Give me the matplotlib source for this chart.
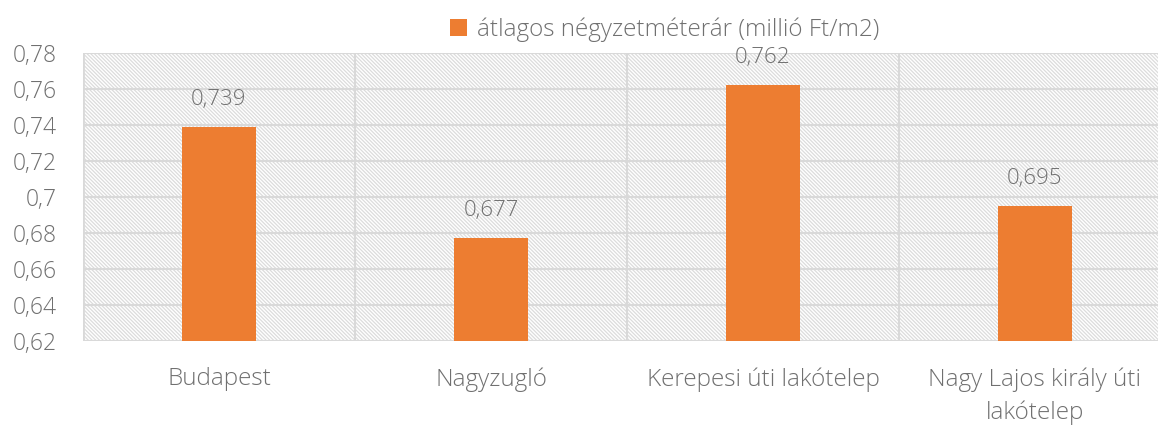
import matplotlib.pyplot as plt
from matplotlib.patches import Patch

# -----------------------
# Data
# -----------------------
categories = ["Budapest", "Nagyzugló", "Kerepesi úti lakótelep", "Nagy Lajos király úti\nlakótelep"]
values = [0.739, 0.677, 0.762, 0.695]
value_labels = ["0,739", "0,677", "0,762", "0,695"]
y_ticks = [0.62, 0.64, 0.66, 0.68, 0.70, 0.72, 0.74, 0.76, 0.78]
y_tick_labels = ["0,62", "0,64", "0,66", "0,68", "0,7", "0,72", "0,74", "0,76", "0,78"]
series_name = "átlagos négyzetméterár (millió Ft/m2)"

# -----------------------
# Style
# -----------------------
BAR_COLOR = "#ed7d31"
TEXT_COLOR = "#707070"
GRID_COLOR = "#d9d9d9"
FONT_W = 300

plt.rcParams["font.family"] = ["Open Sans", "DejaVu Sans"]
plt.rcParams["hatch.color"] = "#dcdcdc"
plt.rcParams["hatch.linewidth"] = 0.9

fig = plt.figure(figsize=(11.58, 4.30), dpi=100)
# plot area runs past the right edge, like the cropped original
ax = fig.add_axes([83 / 1158, 1 - 341 / 430, 1088 / 1158, 288 / 430])

# hatched background
ax.set_facecolor("white")
ax.patch.set_hatch("\\" * 9)
ax.patch.set_edgecolor("#dcdcdc")
ax.patch.set_linewidth(0)

x = range(len(categories))
ax.bar(x, values, width=0.272, color=BAR_COLOR, zorder=3)

for i, (v, lab) in enumerate(zip(values, value_labels)):
    ax.annotate(lab, (i, v), xytext=(0, 20), textcoords="offset points",
                ha="center", va="center", fontsize=16, color=TEXT_COLOR,
                fontweight=FONT_W)

ax.set_xlim(-0.5, len(categories) - 0.5)
ax.set_ylim(0.62, 0.78)
ax.set_yticks(y_ticks)
ax.set_yticklabels(y_tick_labels)
ax.set_xticks(list(x))
ax.set_xticklabels(categories, linespacing=1.45)

# gridlines (horizontal + category separators)
ax.grid(axis="y", color=GRID_COLOR, linewidth=1.5, zorder=1)
for b in [0.5, 1.5, 2.5]:
    ax.axvline(b, color=GRID_COLOR, linewidth=1.5, zorder=1)
ax.axvline(-0.5, color=GRID_COLOR, linewidth=2, zorder=1)
ax.set_axisbelow(True)

for s in ax.spines.values():
    s.set_visible(False)
ax.axhline(0.62, color=GRID_COLOR, linewidth=2, zorder=2)

ax.tick_params(axis="both", length=0, colors=TEXT_COLOR)
ax.tick_params(axis="x", pad=19, labelsize=17.5)
ax.tick_params(axis="y", pad=19, labelsize=16.5)
for t in ax.get_xticklabels() + ax.get_yticklabels():
    t.set_fontweight(FONT_W)

handles = [Patch(facecolor=BAR_COLOR, edgecolor="none", label=series_name)]
leg = fig.legend(handles=handles, loc="center", bbox_to_anchor=(665 / 1158, 1 - 30 / 430),
                 frameon=False, fontsize=17.5, handlelength=0.7, handleheight=0.7,
                 handletextpad=0.4, labelcolor=TEXT_COLOR)
for t in leg.get_texts():
    t.set_fontweight(FONT_W)

plt.savefig("out.png", dpi=100)
plt.close()
